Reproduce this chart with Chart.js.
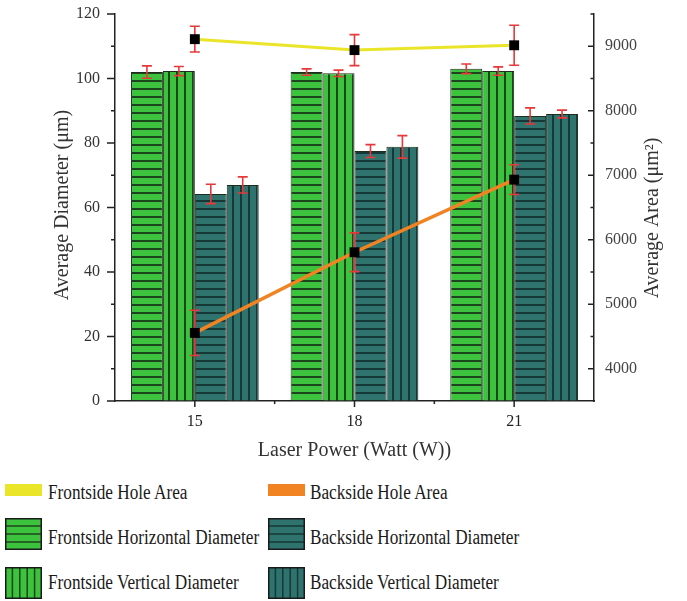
<!DOCTYPE html>
<html>
<head>
<meta charset="utf-8">
<script src="https://cdn.jsdelivr.net/npm/chart.js@4.4.1/dist/chart.umd.min.js"></script>
<style>
  body { margin: 0; background: #fff; }
  #wrap { position: relative; width: 687px; height: 601px; overflow: hidden; }
  #chart { position: absolute; left: 0; top: 0; }
  .lg-text {
    position: absolute;
    font-family: 'Liberation Serif', 'Times New Roman', serif;
    font-size: 20px;
    line-height: 24px;
    color: #1a1a1a;
    white-space: nowrap;
    transform: scaleX(0.86);
    transform-origin: left center;
  }
  .lg-box { position: absolute; }
</style>
</head>
<body>
<div id="wrap">
  <canvas id="chart" width="687" height="465"></canvas>
  <div id="legend"></div>
</div>
<script>
// data
const powers = ['15', '18', '21'];

const frontHoriz = [102.0, 102.0, 103.0];
const frontVert = [102.3, 101.6, 102.3];
const backHoriz = [64.2, 77.5, 88.4];
const backVert = [67.0, 78.8, 89.0];

const frontHorizErr = [1.9, 1.0, 1.5];
const frontVertErr = [1.4, 1.0, 1.3];
const backHorizErr = [3.0, 2.0, 2.5];
const backVertErr = [2.5, 3.5, 1.2];

const frontArea = [9110, 8940, 9015];
const backArea = [4556, 5806, 6932];
const frontAreaErr = [200, 240, 310];
const backAreaErr = [350, 300, 230];

const diamTicks = [0, 20, 40, 60, 80, 100, 120];
const areaTicks = [4000, 5000, 6000, 7000, 8000, 9000];

const GREEN = '#3cc23c', GREEN_LINE = '#1d451d';
const TEAL = '#2f736f', TEAL_LINE = '#163836';
const YELLOW = '#ebe52a', ORANGE = '#f28323';
const SERIF = "'Liberation Serif', 'Times New Roman', serif";

// striped fills for the bars
function makePattern(fill, line, vertical) {
  const c = document.createElement('canvas');
  c.width = 8; c.height = 8;
  const g = c.getContext('2d');
  g.fillStyle = fill;
  g.fillRect(0, 0, 8, 8);
  g.fillStyle = line;
  if (vertical) g.fillRect(0, 0, 2, 8);
  else g.fillRect(0, 0, 8, 2);
  return g.createPattern(c, 'repeat');
}

const ctx = document.getElementById('chart').getContext('2d');
const fhFill = makePattern(GREEN, GREEN_LINE, false);
const fvFill = makePattern(GREEN, GREEN_LINE, true);
const bhFill = makePattern(TEAL, TEAL_LINE, false);
const bvFill = makePattern(TEAL, TEAL_LINE, true);

function drawErrors(chart, i) {
  const ds = chart.data.datasets[i];
  const meta = chart.getDatasetMeta(i);
  const scale = chart.scales[meta.yAxisID];
  const c = chart.ctx;
  c.save();
  c.strokeStyle = '#e8383a';
  c.lineWidth = 1.6;
  meta.data.forEach(function(el, j) {
    const v = ds.data[j], e = ds.errors[j];
    const yt = scale.getPixelForValue(v + e);
    const yb = scale.getPixelForValue(v - e);
    c.beginPath();
    c.moveTo(el.x, yt); c.lineTo(el.x, yb);
    c.moveTo(el.x - 5, yt); c.lineTo(el.x + 5, yt);
    c.moveTo(el.x - 5, yb); c.lineTo(el.x + 5, yb);
    c.stroke();
  });
  c.restore();
}

const decor = {
  id: 'decor',
  beforeDatasetDraw(chart, args) {
    if (args.meta.type === 'line') drawErrors(chart, args.index);
  },
  afterDatasetDraw(chart, args) {
    if (args.meta.type === 'bar') drawErrors(chart, args.index);
  },
  afterDraw(chart) {
    const c = chart.ctx;
    const a = chart.chartArea;
    const y = chart.scales.y, y1 = chart.scales.y1, x = chart.scales.x;
    c.save();
    c.strokeStyle = '#222';
    c.lineWidth = 1.5;
    c.beginPath();
    // left axis: outward ticks
    for (let v = 0; v <= 120; v += 10) {
      const py = y.getPixelForValue(v);
      c.moveTo(a.left, py); c.lineTo(a.left - (v % 20 === 0 ? 8 : 4), py);
    }
    // right axis: inward ticks
    for (let v = 4000; v <= 9500; v += 500) {
      const py = y1.getPixelForValue(v);
      c.moveTo(a.right, py); c.lineTo(a.right - (v % 1000 === 0 ? 6 : 3.5), py);
    }
    // bottom axis
    for (let k = 0; k < powers.length; k++) {
      const px = x.getPixelForValue(k);
      c.moveTo(px, a.bottom); c.lineTo(px, a.bottom + 6);
      if (k < powers.length - 1) {
        const pm = x.getPixelForValue(k + 0.5);
        c.moveTo(pm, a.bottom); c.lineTo(pm, a.bottom + 3);
      }
    }
    c.stroke();

    // axis titles
    c.fillStyle = '#333';
    c.font = '20px ' + SERIF;
    c.textAlign = 'center';
    c.textBaseline = 'middle';
    c.fillText('Laser Power (Watt (W))', (a.left + a.right) / 2, 451);
    c.save();
    c.translate(63, 205);
    c.rotate(-Math.PI / 2);
    c.fillText('Average Diameter (μm)', 0, 0);
    c.restore();
    c.save();
    c.translate(653, 218);
    c.rotate(-Math.PI / 2);
    c.fillText('Average Area (μm²)', 0, 0);
    c.restore();
    c.restore();
  }
};

const barCommon = {
  yAxisID: 'y',
  borderColor: '#1e2e1e',
  borderWidth: 1,
  categoryPercentage: 0.8,
  barPercentage: 1.0
};

function fixVertical(s, width) {
  s.width = width;
  s.paddingTop = 0;
  s.paddingBottom = 0;
}

const chart = new Chart(ctx, {
  type: 'bar',
  data: {
    labels: powers,
    datasets: [
      {
        type: 'line', label: 'Frontside Hole Area', data: frontArea, errors: frontAreaErr,
        yAxisID: 'y1', borderColor: YELLOW, borderWidth: 3, fill: false, tension: 0,
        pointStyle: 'rect', pointRadius: 7, pointBackgroundColor: '#000', pointBorderWidth: 0
      },
      {
        type: 'line', label: 'Backside Hole Area', data: backArea, errors: backAreaErr,
        yAxisID: 'y1', borderColor: ORANGE, borderWidth: 3.5, fill: false, tension: 0,
        pointStyle: 'rect', pointRadius: 7, pointBackgroundColor: '#000', pointBorderWidth: 0
      },
      Object.assign({ label: 'Frontside Horizontal Diameter', data: frontHoriz, errors: frontHorizErr, backgroundColor: fhFill }, barCommon),
      Object.assign({ label: 'Frontside Vertical Diameter', data: frontVert, errors: frontVertErr, backgroundColor: fvFill }, barCommon),
      Object.assign({ label: 'Backside Horizontal Diameter', data: backHoriz, errors: backHorizErr, backgroundColor: bhFill }, barCommon),
      Object.assign({ label: 'Backside Vertical Diameter', data: backVert, errors: backVertErr, backgroundColor: bvFill }, barCommon)
    ]
  },
  options: {
    responsive: false,
    animation: false,
    layout: { padding: { top: 14, left: 0, right: 0, bottom: 0 } },
    plugins: { legend: { display: false }, tooltip: { enabled: false } },
    scales: {
      x: {
        offset: true,
        grid: { drawOnChartArea: false, drawTicks: false },
        border: { display: true, color: '#222', width: 1.5 },
        ticks: { color: '#222', padding: 11, font: { family: SERIF, size: 16 } },
        afterFit: function(s) { s.height = 64; }
      },
      y: {
        position: 'left',
        min: 0, max: 120,
        grid: { drawOnChartArea: false, drawTicks: false },
        border: { display: true, color: '#222', width: 1.5 },
        ticks: { color: '#333', padding: 15, font: { family: SERIF, size: 16 } },
        afterBuildTicks: function(s) { s.ticks = diamTicks.map(function(v) { return { value: v }; }); },
        afterFit: function(s) { fixVertical(s, 115); }
      },
      y1: {
        position: 'right',
        min: 3500, max: 9500,
        grid: { drawOnChartArea: false, drawTicks: false },
        border: { display: true, color: '#222', width: 1.5 },
        ticks: {
          color: '#444', padding: 11, font: { family: SERIF, size: 16 },
          callback: function(value) { return String(value); }
        },
        afterBuildTicks: function(s) { s.ticks = areaTicks.map(function(v) { return { value: v }; }); },
        afterFit: function(s) { fixVertical(s, 93); }
      }
    }
  },
  plugins: [decor]
});

// legend laid out in two columns like the figure
const legendItems = [
  { text: 'Frontside Hole Area', kind: 'line', color: YELLOW, col: 0, row: 0 },
  { text: 'Backside Hole Area', kind: 'line', color: ORANGE, col: 1, row: 0 },
  { text: 'Frontside Horizontal Diameter', kind: 'h', color: GREEN, line: GREEN_LINE, col: 0, row: 1 },
  { text: 'Backside Horizontal Diameter', kind: 'h', color: TEAL, line: TEAL_LINE, col: 1, row: 1 },
  { text: 'Frontside Vertical Diameter', kind: 'v', color: GREEN, line: GREEN_LINE, col: 0, row: 2 },
  { text: 'Backside Vertical Diameter', kind: 'v', color: TEAL, line: TEAL_LINE, col: 1, row: 2 }
];
const colBox = [5, 268], colText = [48, 310];
const rowMid = [490, 534, 583], rowText = [492, 537, 582];

const legend = document.getElementById('legend');
legendItems.forEach(function(it) {
  const box = document.createElement('canvas');
  box.className = 'lg-box';
  const w = 37, h = it.kind === 'line' ? 12 : 32;
  box.width = w; box.height = h;
  box.style.left = colBox[it.col] + 'px';
  box.style.top = (rowMid[it.row] - h / 2) + 'px';
  const g = box.getContext('2d');
  g.fillStyle = it.color;
  g.fillRect(0, 0, w, h);
  if (it.kind !== 'line') {
    g.strokeStyle = it.line;
    g.lineWidth = 1.5;
    g.beginPath();
    if (it.kind === 'h') {
      for (let k = 1; k < 4; k++) { g.moveTo(0, k * h / 4); g.lineTo(w, k * h / 4); }
    } else {
      for (let k = 1; k < 5; k++) { g.moveTo(k * w / 5, 0); g.lineTo(k * w / 5, h); }
    }
    g.stroke();
    g.strokeStyle = '#1a1a1a';
    g.strokeRect(0.75, 0.75, w - 1.5, h - 1.5);
  }
  legend.appendChild(box);

  const t = document.createElement('div');
  t.className = 'lg-text';
  t.textContent = it.text;
  t.style.left = colText[it.col] + 'px';
  t.style.top = (rowText[it.row] - 12) + 'px';
  legend.appendChild(t);
});
</script>
</body>
</html>
